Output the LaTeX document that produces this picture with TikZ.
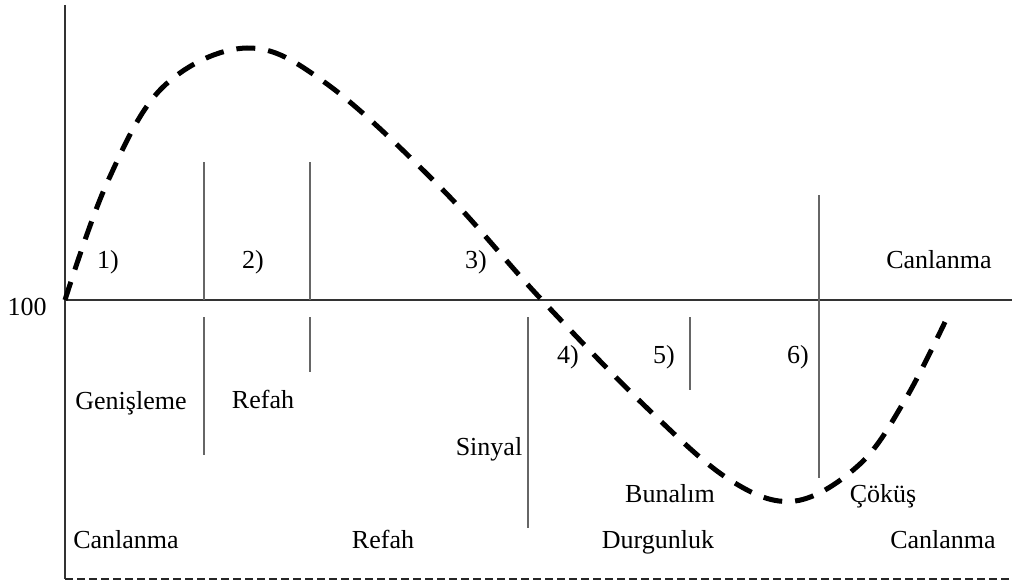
\documentclass[tikz,border=0pt]{standalone}
\usepackage{fontspec}
\setmainfont{Liberation Serif}
\begin{document}
\begin{tikzpicture}[x=1pt,y=-1pt,
  lbl/.style={font=\fontsize{26}{28}\selectfont, inner sep=0pt, text=black, anchor=base},
  sepline/.style={draw=black!60, line width=2pt},
  axisline/.style={draw=black!80, line width=2pt},
  wave/.style={draw=black, line width=5pt, dash pattern=on 19pt off 13pt},
  baseline/.style={draw=black!85, line width=2pt, dash pattern=on 8pt off 4pt}]
\useasboundingbox (0,0) rectangle (1012,586);
% axes
\coordinate (top) at (65,5);
\coordinate (orig) at (65,300);
\coordinate (bot) at (65,579);
\coordinate (hr) at (1012,300);
\coordinate (br) at (1012,579);
\draw[axisline] (top) -- (bot);
\draw[axisline] (orig) -- (hr);
\draw[baseline] (bot) -- (br);
% separators
\coordinate (s1a) at (204,162); \coordinate (s1b) at (204,300);
\coordinate (s1c) at (204,317); \coordinate (s1d) at (204,455);
\coordinate (s2a) at (310,162); \coordinate (s2b) at (310,300);
\coordinate (s2c) at (310,317); \coordinate (s2d) at (310,372);
\coordinate (s3a) at (528,317); \coordinate (s3b) at (528,528);
\coordinate (s4a) at (690,317); \coordinate (s4b) at (690,390);
\coordinate (s5a) at (819,195); \coordinate (s5b) at (819,478);
\draw[sepline] (s1a) -- (s1b);
\draw[sepline] (s1c) -- (s1d);
\draw[sepline] (s2a) -- (s2b);
\draw[sepline] (s2c) -- (s2d);
\draw[sepline] (s3a) -- (s3b);
\draw[sepline] (s4a) -- (s4b);
\draw[sepline] (s5a) -- (s5b);
% wave
\draw[wave] plot[smooth, tension=0.6] coordinates {(65,300) (107,183) (163,87) (247,48) (327,84) (440,187) (540,298) (647,408) (730,480) (795,501) (860,464) (905,400) (945,322)};
% labels
\node[lbl] (l100) at (27,315) {100};
\node[lbl] (n1) at (108,268) {1)};
\node[lbl] (n2) at (253,268) {2)};
\node[lbl] (n3) at (476,268) {3)};
\node[lbl] (n4) at (568,363) {4)};
\node[lbl] (n5) at (664,363) {5)};
\node[lbl] (n6) at (798,363) {6)};
\node[lbl] (canT) at (939,268) {Canlanma};
\node[lbl] (gen) at (131,409) {Genişleme};
\node[lbl] (ref1) at (263,408) {Refah};
\node[lbl] (sin) at (489,455) {Sinyal};
\node[lbl] (bun) at (670,502) {Bunalım};
\node[lbl] (cok) at (883,502) {Çöküş};
\node[lbl] (can1) at (126,548) {Canlanma};
\node[lbl] (ref2) at (383,548) {Refah};
\node[lbl] (dur) at (658,548) {Durgunluk};
\node[lbl] (can2) at (943,548) {Canlanma};
\end{tikzpicture}
\end{document}
